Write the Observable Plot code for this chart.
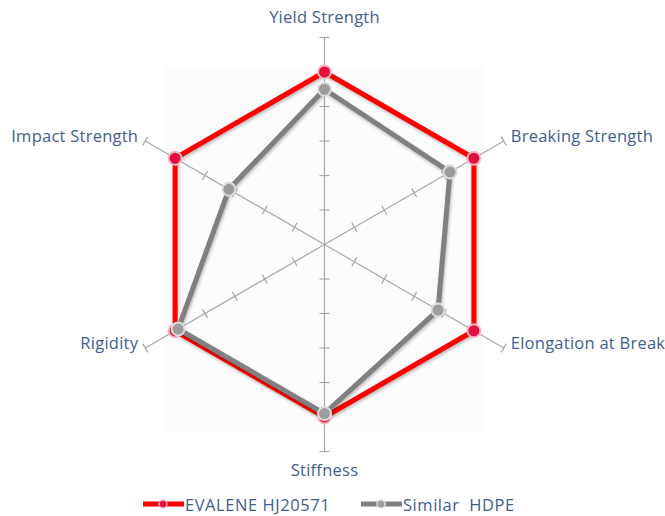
<!DOCTYPE html>
<html>
<head>
<meta charset="utf-8">
<script src="https://cdn.jsdelivr.net/npm/d3@7"></script>
<script src="https://cdn.jsdelivr.net/npm/@observablehq/plot@0.6"></script>
<style>
  html, body { margin: 0; padding: 0; background: #fff; }
  #wrap { width: 665px; position: relative; font-family: "Open Sans", Lato, sans-serif; }
  #wrap svg text { letter-spacing: 0.25px; }
  #legend { position: relative; height: 24px; width: 665px; }
  .item { position: absolute; top: 0; height: 24px; display: flex; align-items: center; font-size: 16.5px; letter-spacing: 0.55px; color: #3f5e8e; white-space: pre; }
  .item svg { display: block; }
</style>
</head>
<body>
<div id="wrap"></div>
<script>
// ---- data ----
const axesNames = ["Yield Strength", "Breaking Strength", "Elongation at Break", "Stiffness", "Rigidity", "Impact Strength"];
const evaleneValues = [5, 5, 5, 5, 5, 5];
const hdpeValues = [4.5, 4.2, 3.8, 4.9, 4.9, 3.2];
const tickValues = [1, 2, 3, 4, 5, 6];
const maxValue = 6;
const seriesNames = ["EVALENE HJ20571", "Similar  HDPE"];
const seriesColors = ["#ff0000", "#808080"];

// ---- geometry (scale setup) ----
const W = 665, H = 492;
const pxPerUnit = 34.5;
const cx = 324, cy = 244;
const capHalf = 5 / pxPerUnit;

const angleOf = i => (90 - 60 * i) * Math.PI / 180;
const pt = (i, r) => ({x: r * Math.cos(angleOf(i)), y: r * Math.sin(angleOf(i))});

const axisLines = axesNames.map((name, i) => ({name, x1: 0, y1: 0, x2: pt(i, maxValue).x, y2: pt(i, maxValue).y}));
const ticks = [];
axesNames.forEach((name, i) => {
  const a = angleOf(i);
  const px = -Math.sin(a), py = Math.cos(a);
  tickValues.forEach(v => {
    const p = pt(i, v);
    ticks.push({x1: p.x - px * capHalf, y1: p.y - py * capHalf, x2: p.x + px * capHalf, y2: p.y + py * capHalf});
  });
});

const series = [
  {name: seriesNames[0], values: evaleneValues},
  {name: seriesNames[1], values: hdpeValues}
];
const rows = series.flatMap(s => s.values.map((v, i) => ({series: s.name, axis: axesNames[i], ...pt(i, v)})));

const labels = axesNames.map((name, i) => {
  const p = pt(i, maxValue);
  const c = Math.cos(angleOf(i)), s = Math.sin(angleOf(i));
  let anchor = Math.abs(c) < 0.01 ? "middle" : (c > 0 ? "start" : "end");
  return {name, x: p.x, y: p.y, anchor, s};
});

const bg = [{x1: -maxValue * 0.77, x2: maxValue * 0.77, y1: -maxValue * 0.905, y2: maxValue * 0.855}];
const labelColor = "#3f5e8e";
const fs = 16.5;

const chart = Plot.plot({
  width: W, height: H,
  marginTop: 0, marginRight: 0, marginBottom: 0, marginLeft: 0,
  x: {domain: [-cx / pxPerUnit, (W - cx) / pxPerUnit], axis: null},
  y: {domain: [-(H - cy) / pxPerUnit, cy / pxPerUnit], axis: null},
  style: {fontFamily: "'Open Sans', Lato, sans-serif", background: "transparent"},
  marks: [
    Plot.rect(bg, {x1: "x1", x2: "x2", y1: "y1", y2: "y2", fill: "#fcfcfc"}),
    Plot.link(axisLines, {x1: "x1", y1: "y1", x2: "x2", y2: "y2", stroke: "#a8a8a8", strokeWidth: 1.2}),
    Plot.link(ticks, {x1: "x1", y1: "y1", x2: "x2", y2: "y2", stroke: "#a8a8a8", strokeWidth: 1.2}),
    Plot.line(rows.filter(d => d.series === seriesNames[0]), {x: "x", y: "y", curve: "linear-closed", stroke: seriesColors[0], strokeWidth: 5, strokeLinejoin: "miter"}),
    Plot.dot(rows.filter(d => d.series === seriesNames[0]), {x: "x", y: "y", r: 6.5, fill: "#e3103e", stroke: "#f2b8c4", strokeWidth: 2}),
    Plot.line(rows.filter(d => d.series === seriesNames[1]), {x: "x", y: "y", curve: "linear-closed", stroke: seriesColors[1], strokeWidth: 5, strokeLinejoin: "miter"}),
    Plot.dot(rows.filter(d => d.series === seriesNames[1]), {x: "x", y: "y", r: 6.5, fill: "#9c9c9c", stroke: "#dcdcdc", strokeWidth: 2}),
    Plot.text(labels.filter(d => d.anchor === "middle" && d.s > 0), {x: "x", y: "y", text: "name", textAnchor: "middle", dy: -20, fontSize: fs, fill: labelColor}),
    Plot.text(labels.filter(d => d.anchor === "middle" && d.s < 0), {x: "x", y: "y", text: "name", textAnchor: "middle", dy: 19, fontSize: fs, fill: labelColor}),
    Plot.text(labels.filter(d => d.anchor === "start"), {x: "x", y: "y", text: "name", textAnchor: "start", dx: 7, dy: -4, fontSize: fs, fill: labelColor}),
    Plot.text(labels.filter(d => d.anchor === "end"), {x: "x", y: "y", text: "name", textAnchor: "end", dx: -7, dy: -4, fontSize: fs, fill: labelColor})
  ]
});

chart.querySelectorAll('g[aria-label="line"] path').forEach(p => {
  p.style.filter = "drop-shadow(1px 2px 1.5px rgba(0,0,0,0.25))";
});

const wrap = document.getElementById("wrap");
wrap.appendChild(chart);

// ---- legend ----
const legend = document.createElement("div");
legend.id = "legend";
const legendLeft = [142, 360];
const markerFill = ["#e3103e", "#9c9c9c"];
const markerStroke = ["#f2b8c4", "#dcdcdc"];
seriesNames.forEach((name, i) => {
  const item = document.createElement("div");
  item.className = "item";
  item.style.left = legendLeft[i] + "px";
  item.innerHTML = `<svg width="43" height="12"><line x1="1" y1="6" x2="42" y2="6" stroke="${seriesColors[i]}" stroke-width="5"/><circle cx="21" cy="6" r="4" fill="${markerFill[i]}" stroke="${markerStroke[i]}" stroke-width="1.5"/></svg><span>${name}</span>`;
  legend.appendChild(item);
});
wrap.appendChild(legend);
</script>
</body>
</html>
